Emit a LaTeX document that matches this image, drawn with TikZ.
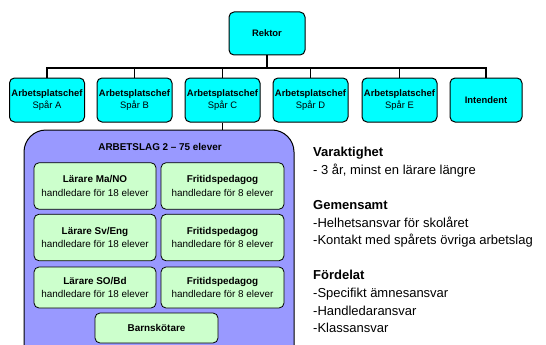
\documentclass[tikz,border=0pt]{standalone}
\usepackage{fontspec}
\setmainfont{Liberation Sans}
\definecolor{boxcyan}{HTML}{00FFFF}
\definecolor{teamfill}{HTML}{9999FF}
\definecolor{greenfill}{HTML}{CCFFCC}
\begin{document}
\begin{tikzpicture}[x=1pt,y=-1pt,
  lead/.style={draw=black,line width=1pt,fill=boxcyan,rounded corners=5pt,
    minimum width=75pt,minimum height=44pt,align=center,inner sep=1pt,
    font=\fontsize{9.4}{11.5}\selectfont},
  member/.style={draw=black,line width=0.8pt,fill=greenfill,rounded corners=5pt,
    align=center,inner sep=1pt,font=\fontsize{9.9}{13.5}\selectfont},
  team/.style={draw=black,line width=1pt,fill=teamfill,rounded corners=22pt},
  conn/.style={draw=black,line width=1.1pt},
  info/.style={anchor=base west,inner sep=0pt,font=\fontsize{13}{15}\selectfont}]
\useasboundingbox (0,0) rectangle (546,345);
\clip (0,0) rectangle (546,345);
\fill[white] (0,0) rectangle (546,345);

% top
\node[lead,minimum width=76pt,minimum height=43pt] (rektor) at (267,33.5) {\textbf{Rektor}};
\coordinate (bus) at (267,68);

\node[lead] (a) at (47,100) {\textbf{Arbetsplatschef}\\Spår A};
\node[lead] (b) at (134.5,100) {\textbf{Arbetsplatschef}\\Spår B};
\node[lead] (c) at (222.5,100) {\textbf{Arbetsplatschef}\\Spår C};
\node[lead] (d) at (310.5,100) {\textbf{Arbetsplatschef}\\Spår D};
\node[lead] (e) at (399.5,100) {\textbf{Arbetsplatschef}\\Spår E};
\node[lead,minimum width=72pt] (i) at (486,100) {\textbf{Intendent}};

\draw[conn,line width=2pt] (rektor.south) -- (bus);
\foreach \n in {a,b,c,d,e,i} \draw[conn] (bus) -| (\n.north);

% team
\node[team,minimum width=270pt,minimum height=240pt] (team) at (159,250) {};
\draw[conn] (c.south) -- (c.south |- team.north);
\node[anchor=center,inner sep=0pt,font=\fontsize{9.9}{12}\selectfont] (teamtitle) at (160,147) {\textbf{ARBETSLAG 2 – 75 elever}};

\node[member,minimum width=122pt,minimum height=46.5pt] (m1) at (95,186) {\textbf{Lärare Ma/NO}\\handledare för 18 elever};
\node[member,minimum width=123pt,minimum height=46.5pt] (f1) at (222.5,186) {\textbf{Fritidspedagog}\\handledare för 8 elever};
\node[member,minimum width=122pt,minimum height=46.5pt] (m2) at (95,237.5) {\textbf{Lärare Sv/Eng}\\handledare för 18 elever};
\node[member,minimum width=123pt,minimum height=46.5pt] (f2) at (222.5,237.5) {\textbf{Fritidspedagog}\\handledare för 8 elever};
\node[member,minimum width=122pt,minimum height=41pt] (m3) at (95,287.5) {\textbf{Lärare SO/Bd}\\handledare för 18 elever};
\node[member,minimum width=123pt,minimum height=41pt] (f3) at (222.5,287.5) {\textbf{Fritidspedagog}\\handledare för 8 elever};
\node[member,minimum width=123pt,minimum height=30pt] (bs) at (156.5,328) {\textbf{Barnskötare}};

% info text
\node[info] (t1) at (313,156.6) {\textbf{Varaktighet}};
\node[info] (t2) at (313,174.2) {- 3 år, minst en lärare längre};
\node[info] (t3) at (313,209.4) {\textbf{Gemensamt}};
\node[info] (t4) at (313,227.0) {-Helhetsansvar för skolåret};
\node[info] (t5) at (313,244.6) {-Kontakt med spårets övriga arbetslag};
\node[info] (t6) at (313,279.8) {\textbf{Fördelat}};
\node[info] (t7) at (313,297.4) {-Specifikt ämnesansvar};
\node[info] (t8) at (313,315.0) {-Handledaransvar};
\node[info] (t9) at (313,332.6) {-Klassansvar};
\end{tikzpicture}
\end{document}
